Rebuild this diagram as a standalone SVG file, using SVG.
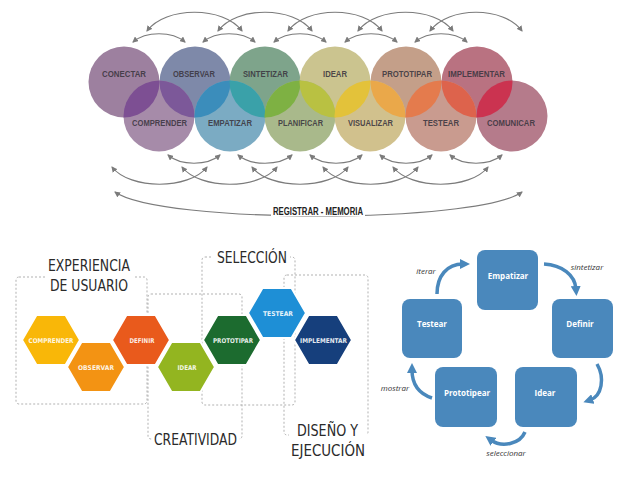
<svg xmlns="http://www.w3.org/2000/svg" width="638" height="479" viewBox="0 0 638 479">
<style>
.lbl{font-family:"Liberation Sans",Arial,sans-serif;font-size:8.6px;font-weight:bold;fill:#3b3640;fill-opacity:0.9;text-anchor:middle}
.arc{fill:none;stroke:#7b7b7b;stroke-width:1.2;marker-start:url(#ga);marker-end:url(#ga)}
.hx{stroke:#fff;stroke-width:2}
.ht{font-family:"DejaVu Sans","Liberation Sans",sans-serif;font-weight:bold;font-size:6.5px;fill:#fff;fill-opacity:0.9;text-anchor:middle}
.dbox{fill:none;stroke:#a8a8a8;stroke-width:0.9;stroke-dasharray:2 2}
.big{font-family:"DejaVu Sans","Liberation Sans",sans-serif;font-weight:normal;font-size:16.5px;fill:#2a2a2a}
.rb{fill:#4a88bc}
.rt{font-family:"Open Sans","Liberation Sans",sans-serif;font-weight:bold;font-size:8px;fill:#fff;text-anchor:middle}
.ra{fill:none;stroke:#4a88bc;stroke-width:3.5;marker-end:url(#ba)}
.it{font-family:"Open Sans","Liberation Sans",sans-serif;font-style:italic;font-size:8px;fill:#333;text-anchor:middle}
</style>
<defs>
<marker id="ga" viewBox="0 0 6 6" refX="5" refY="3" markerWidth="6" markerHeight="6" markerUnits="userSpaceOnUse" orient="auto-start-reverse"><path d="M0,0 L6,3 L0,6 z" fill="#7b7b7b"/></marker>
<marker id="ba" viewBox="0 0 10 10" refX="3" refY="5" markerWidth="10" markerHeight="10" markerUnits="userSpaceOnUse" orient="auto"><path d="M0,0 L10,5 L0,10 z" fill="#4a88bc"/></marker>
<clipPath id="t0"><circle cx="124" cy="82" r="35.5"/></clipPath>
<clipPath id="t1"><circle cx="195" cy="82" r="35.5"/></clipPath>
<clipPath id="t2"><circle cx="265" cy="82" r="35.5"/></clipPath>
<clipPath id="t3"><circle cx="335" cy="82" r="35.5"/></clipPath>
<clipPath id="t4"><circle cx="406" cy="82" r="35.5"/></clipPath>
<clipPath id="t5"><circle cx="477" cy="82" r="35.5"/></clipPath>
</defs>
<rect width="638" height="479" fill="#fff"/>

<!-- TOP: circles -->
<g id="circles-top">
<circle cx="124" cy="82" r="35.5" fill="#9d809f"/>
<circle cx="195" cy="82" r="35.5" fill="#7e89a9"/>
<circle cx="265" cy="82" r="35.5" fill="#7ea48b"/>
<circle cx="335" cy="82" r="35.5" fill="#cbc48f"/>
<circle cx="406" cy="82" r="35.5" fill="#c49f89"/>
<circle cx="477" cy="82" r="35.5" fill="#b97281"/>
</g>
<g id="circles-bottom">
<circle cx="159" cy="116" r="35.5" fill="#a68ba9"/>
<circle cx="230" cy="116" r="35.5" fill="#7babc3"/>
<circle cx="300" cy="116" r="35.5" fill="#a9b98b"/>
<circle cx="370" cy="116" r="35.5" fill="#d1c18d"/>
<circle cx="441" cy="116" r="35.5" fill="#c99b8f"/>
<circle cx="512" cy="116" r="35.5" fill="#b57b8b"/>
</g>
<g id="overlaps">
<circle cx="159" cy="116" r="35.5" fill="#7d4f93" clip-path="url(#t0)"/>
<circle cx="159" cy="116" r="35.5" fill="#7c5899" clip-path="url(#t1)"/>
<circle cx="230" cy="116" r="35.5" fill="#3b8dbb" clip-path="url(#t1)"/>
<circle cx="230" cy="116" r="35.5" fill="#3aa1a9" clip-path="url(#t2)"/>
<circle cx="300" cy="116" r="35.5" fill="#7eb143" clip-path="url(#t2)"/>
<circle cx="300" cy="116" r="35.5" fill="#b9c142" clip-path="url(#t3)"/>
<circle cx="370" cy="116" r="35.5" fill="#e3c23a" clip-path="url(#t3)"/>
<circle cx="370" cy="116" r="35.5" fill="#eaa84a" clip-path="url(#t4)"/>
<circle cx="441" cy="116" r="35.5" fill="#e47b4d" clip-path="url(#t4)"/>
<circle cx="441" cy="116" r="35.5" fill="#dd634c" clip-path="url(#t5)"/>
<circle cx="512" cy="116" r="35.5" fill="#cb3350" clip-path="url(#t5)"/>
</g>
<g id="circle-labels">
<text class="lbl" x="124" y="76.5" textLength="44" lengthAdjust="spacingAndGlyphs">CONECTAR</text>
<text class="lbl" x="194" y="76.5" textLength="42" lengthAdjust="spacingAndGlyphs">OBSERVAR</text>
<text class="lbl" x="265.5" y="76.5" textLength="45" lengthAdjust="spacingAndGlyphs">SINTETIZAR</text>
<text class="lbl" x="335" y="76.5" textLength="24" lengthAdjust="spacingAndGlyphs">IDEAR</text>
<text class="lbl" x="407" y="76.5" textLength="50" lengthAdjust="spacingAndGlyphs">PROTOTIPAR</text>
<text class="lbl" x="476.5" y="76.5" textLength="57" lengthAdjust="spacingAndGlyphs">IMPLEMENTAR</text>
<text class="lbl" x="159.5" y="126" textLength="55" lengthAdjust="spacingAndGlyphs">COMPRENDER</text>
<text class="lbl" x="230" y="126" textLength="44" lengthAdjust="spacingAndGlyphs">EMPATIZAR</text>
<text class="lbl" x="300.5" y="126" textLength="45" lengthAdjust="spacingAndGlyphs">PLANIFICAR</text>
<text class="lbl" x="370.5" y="126" textLength="45" lengthAdjust="spacingAndGlyphs">VISUALIZAR</text>
<text class="lbl" x="441" y="126" textLength="36" lengthAdjust="spacingAndGlyphs">TESTEAR</text>
<text class="lbl" x="511" y="126" textLength="48" lengthAdjust="spacingAndGlyphs">COMUNICAR</text>
</g>
<g id="connectors-top">
<path class="arc" d="M133,42 C146,31 172,31 185,42"/>
<path class="arc" d="M203,42 C216,31 242,31 255,42"/>
<path class="arc" d="M274,42 C287,31 313,31 326,42"/>
<path class="arc" d="M345,42 C358,31 384,31 397,42"/>
<path class="arc" d="M415,42 C428,31 454,31 467,42"/>
<path class="arc" d="M147,31 C165,6 224,6 242,31"/>
<path class="arc" d="M218,31 C236,6 294,6 312,31"/>
<path class="arc" d="M288,31 C306,6 364,6 382,31"/>
<path class="arc" d="M358,31 C376,6 435,6 453,31"/>
<path class="arc" d="M430,31 C448,6 504,6 522,31"/>
</g>
<g id="connectors-bottom">
<path class="arc" d="M168,155 C181,166 207,166 220,155"/>
<path class="arc" d="M238,155 C251,166 279,166 292,155"/>
<path class="arc" d="M310,155 C323,166 349,166 362,155"/>
<path class="arc" d="M380,155 C393,166 419,166 432,155"/>
<path class="arc" d="M450,155 C463,166 489,166 502,155"/>
<path class="arc" d="M112,167 C130,190 189,190 207,167"/>
<path class="arc" d="M182,167 C200,190 259,190 277,167"/>
<path class="arc" d="M252,167 C270,190 330,190 348,167"/>
<path class="arc" d="M323,167 C341,190 400,190 418,167"/>
<path class="arc" d="M393,167 C411,190 470,190 488,167"/>
<path class="arc" d="M115,192 C160,224 477,224 522,192"/>
</g>
<rect x="271" y="206" width="94" height="10" fill="#fff"/>
<text x="318" y="215" font-family="Liberation Sans,Arial,sans-serif" font-weight="bold" font-size="10" fill="#222" text-anchor="middle" textLength="90" lengthAdjust="spacingAndGlyphs">REGISTRAR - MEMORIA</text>

<!-- BOTTOM LEFT: groups -->
<g id="group-boxes">
<rect class="dbox" x="16" y="277" width="131" height="127" rx="3"/>
<rect class="dbox" x="148" y="294" width="94" height="145" rx="3"/>
<rect class="dbox" x="202" y="257" width="93" height="148" rx="3"/>
<rect class="dbox" x="284" y="275" width="84" height="160" rx="3"/>
</g>
<g id="group-titles">
<rect x="45" y="253" width="89" height="39" fill="#fff"/>
<text class="big" x="48" y="271" textLength="82" lengthAdjust="spacingAndGlyphs">EXPERIENCIA</text>
<text class="big" x="50" y="291" textLength="78" lengthAdjust="spacingAndGlyphs">DE USUARIO</text>
<rect x="212" y="246" width="78" height="20" fill="#fff"/>
<text class="big" x="217" y="263" textLength="70" lengthAdjust="spacingAndGlyphs">SELECCIÓN</text>
<rect x="152" y="428" width="87" height="20" fill="#fff"/>
<text class="big" x="154" y="445" textLength="83" lengthAdjust="spacingAndGlyphs">CREATIVIDAD</text>
<rect x="289" y="418" width="78" height="41" fill="#fff"/>
<text class="big" x="297" y="436" textLength="61" lengthAdjust="spacingAndGlyphs">DISEÑO Y</text>
<text class="big" x="291" y="456" textLength="74" lengthAdjust="spacingAndGlyphs">EJECUCIÓN</text>
</g>
<g id="hex-comprender"><polygon class="hx" fill="#f9b708" points="22,340 36.5,315 65.5,315 80,340 65.5,365 36.5,365"/><text class="ht" x="51" y="342.5" textLength="45" lengthAdjust="spacingAndGlyphs">COMPRENDER</text></g>
<g id="hex-observar"><polygon class="hx" fill="#f39313" points="67,367 81.5,342 110.5,342 125,367 110.5,392 81.5,392"/><text class="ht" x="96" y="369.5" textLength="36" lengthAdjust="spacingAndGlyphs">OBSERVAR</text></g>
<g id="hex-definir"><polygon class="hx" fill="#e95a1c" points="112,340 126.5,315 155.5,315 170,340 155.5,365 126.5,365"/><text class="ht" x="142" y="342.5" textLength="25" lengthAdjust="spacingAndGlyphs">DEFINIR</text></g>
<g id="hex-idear"><polygon class="hx" fill="#93b520" points="157,367 171.5,342 200.5,342 215,367 200.5,392 171.5,392"/><text class="ht" x="187" y="369.5" textLength="19" lengthAdjust="spacingAndGlyphs">IDEAR</text></g>
<g id="hex-prototipar"><polygon class="hx" fill="#1c6b2f" points="203,340 217.5,315 246.5,315 261,340 246.5,365 217.5,365"/><text class="ht" x="233" y="342.5" textLength="40" lengthAdjust="spacingAndGlyphs">PROTOTIPAR</text></g>
<g id="hex-testear"><polygon class="hx" fill="#1e8fd6" points="248,313 262.5,288 291.5,288 306,313 291.5,338 262.5,338"/><text class="ht" x="278" y="315.5" textLength="30" lengthAdjust="spacingAndGlyphs">TESTEAR</text></g>
<g id="hex-implementar"><polygon class="hx" fill="#163f7c" points="294,340 308.5,315 337.5,315 352,340 337.5,365 308.5,365"/><text class="ht" x="323.5" y="342.5" textLength="47" lengthAdjust="spacingAndGlyphs">IMPLEMENTAR</text></g>

<!-- BOTTOM RIGHT: cycle -->
<g id="box-empatizar"><rect class="rb" x="477" y="250" width="61" height="60" rx="8"/><text class="rt" x="508" y="279">Empatizar</text></g>
<g id="box-definir"><rect class="rb" x="552" y="299" width="61" height="59" rx="8"/><text class="rt" x="580" y="327">Definir</text></g>
<g id="box-idear"><rect class="rb" x="515" y="367" width="62" height="60" rx="8"/><text class="rt" x="545" y="396">Idear</text></g>
<g id="box-prototipear"><rect class="rb" x="435" y="367" width="62" height="60" rx="8"/><text class="rt" x="467" y="396">Prototipear</text></g>
<g id="box-testear"><rect class="rb" x="402" y="299" width="60" height="59" rx="8"/><text class="rt" x="432" y="327">Testear</text></g>
<g id="connectors-cycle">
<path class="ra" d="M437,294 C437,276 447,264 463,264"/>
<path class="ra" d="M544,264 C562,265 575,275 576,289"/>
<path class="ra" d="M597,364 C605,378 602,396 590,400"/>
<path class="ra" d="M525,432 C520,444 502,448 491,440"/>
<path class="ra" d="M432,398 C420,394 412,385 412,370"/>
</g>
<g id="cycle-labels">
<text class="it" x="426" y="274">iterar</text>
<text class="it" x="587" y="270">sintetizar</text>
<text class="it" x="506" y="456">seleccionar</text>
<text class="it" x="395" y="391">mostrar</text>
</g>
</svg>
